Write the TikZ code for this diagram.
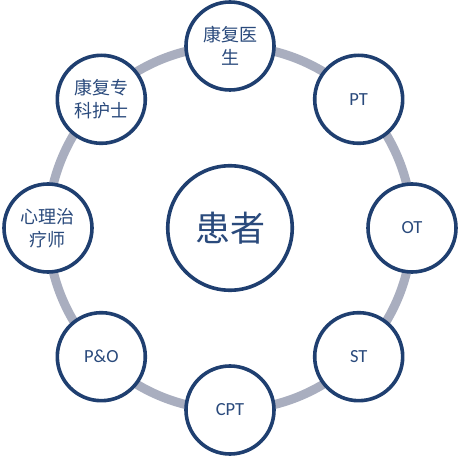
\documentclass[tikz,border=0pt]{standalone}
\usepackage{fontspec}
\setmainfont{Carlito}
\newfontfamily\cjk{Noto Sans CJK SC}
\definecolor{ringgray}{HTML}{A9AEBF}
\definecolor{navy}{HTML}{1F3F70}
\definecolor{txtblue}{HTML}{2A4A7C}
\begin{document}
\begin{tikzpicture}[x=1pt,y=1pt,
  member/.style={circle, draw=navy, line width=3.6pt, fill=white,
    minimum size=88pt, inner sep=0pt, text=txtblue, align=center,
    font=\fontsize{18.5}{22}\selectfont},
  cjkmember/.style={member, font=\cjk\fontsize{18}{22.5}\selectfont},
  hub/.style={circle, draw=navy, line width=3.6pt, fill=white,
    minimum size=124.5pt, inner sep=0pt, text=txtblue,
    font=\cjk\fontsize{35}{40}\selectfont},
  ring/.style={draw=ringgray, line width=9pt}]
\useasboundingbox (-230,-229) rectangle (230,228);
\node[hub] (pat) at (0,0) {患者};
\draw[ring] (pat.center) circle (182);
\node[cjkmember] (doc) at (90:182) {康复医\\生};
\node[member] (pt) at (45:182) {PT};
\node[member] (ot) at (0:182) {OT};
\node[member] (st) at (-45:182) {ST};
\node[member] (cpt) at (-90:182) {CPT};
\node[member] (po) at (-135:182) {P\&O};
\node[cjkmember] (psy) at (180:182) {心理治\\疗师};
\node[cjkmember] (nurse) at (135:182) {康复专\\科护士};
\end{tikzpicture}
\end{document}
